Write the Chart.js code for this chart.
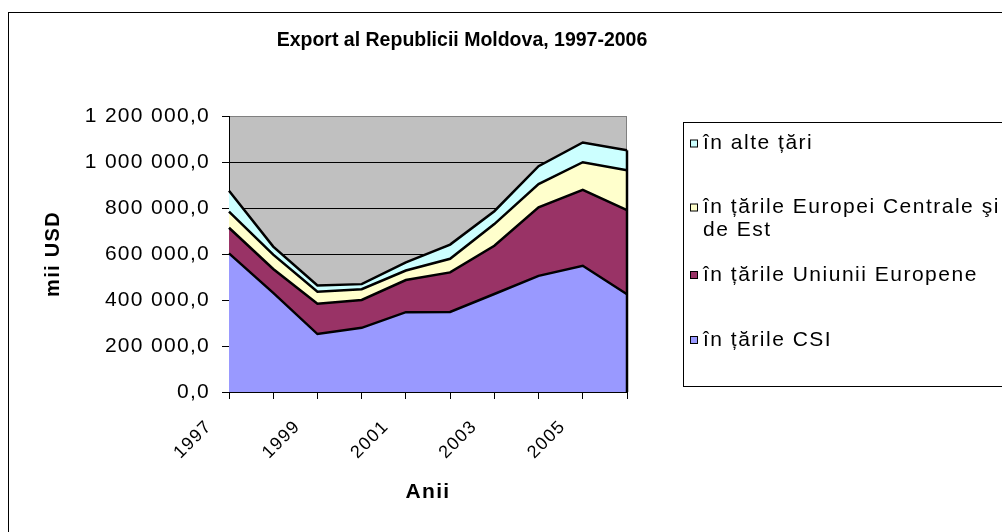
<!DOCTYPE html>
<html><head><meta charset="utf-8">
<script src="https://cdn.jsdelivr.net/npm/chart.js@4.4.1/dist/chart.umd.min.js"></script>
<style>html,body{margin:0;padding:0;background:#fff;overflow:hidden}#wrap{width:1002px;height:532px}</style>
</head><body><div id="wrap"><canvas id="c" width="1002" height="532"></canvas></div>
<script>
const chartTitle = 'Export al Republicii Moldova, 1997-2006';
const xTitle = 'Anii';
const yTitle = 'mii USD';
const years = ['1997','1998','1999','2000','2001','2002','2003','2004','2005','2006'];
const csi   = [603000, 431000, 252000, 279000, 347000, 348000, 426000, 505000, 549000, 425000];
const eu    = [111000, 104000, 132000, 121000, 140000, 172000, 210000, 298000, 330000, 366000];
const cee   = [ 70000,  62000,  52000,  47000,  41000,  59000,  94000, 101000, 120000, 173000];
const other = [ 91000,  35000,  27000,  22000,  36000,  62000,  56000,  78000,  86000,  87000];
const seriesNames = [
  ['în țările CSI'],
  ['în țările Uniunii Europene'],
  ['în țările Europei Centrale şi', 'de Est'],
  ['în alte țări']
];
const yTicks = [0, 200000, 400000, 600000, 800000, 1000000, 1200000];

const FONT = '"Liberation Sans", Arial, sans-serif';
const colors = ['#9999FF', '#993366', '#FFFFCC', '#CCFFFF'];
const seriesData = [csi, eu, cee, other];

function fmt(v) {
  const s = Math.round(v).toString().replace(/\B(?=(\d{3})+(?!\d))/g, ' ');
  return s + ',0';
}

const decor = {
  id: 'decor',
  beforeDraw(chart) {
    const ctx = chart.ctx, a = chart.chartArea;
    ctx.save();
    ctx.fillStyle = '#fff';
    ctx.fillRect(0, 0, chart.width, chart.height);
    ctx.strokeStyle = '#000';
    ctx.lineWidth = 1;
    ctx.strokeRect(8.5, 12.5, 1100, 600);
    ctx.fillStyle = '#C0C0C0';
    ctx.fillRect(a.left, a.top, a.right - a.left, a.bottom - a.top);
    ctx.strokeStyle = '#808080';
    ctx.beginPath();
    ctx.moveTo(a.right - 0.5, a.top);
    ctx.lineTo(a.right - 0.5, a.bottom);
    ctx.stroke();
    ctx.restore();
    ctx.letterSpacing = '1.3px';
  },
  afterDatasetsDraw(chart) {
    const ctx = chart.ctx, a = chart.chartArea, y = chart.scales.y;
    const last = years.length - 1;
    let total = 0;
    seriesData.forEach(s => total += s[last]);
    ctx.save();
    ctx.strokeStyle = '#000';
    ctx.lineWidth = 2.5;
    ctx.beginPath();
    ctx.moveTo(a.right, y.getPixelForValue(total));
    ctx.lineTo(a.right, a.bottom);
    ctx.stroke();
    ctx.restore();
  },
  afterDraw(chart) {
    const ctx = chart.ctx;
    ctx.save();
    ctx.letterSpacing = '0px';
    ctx.fillStyle = '#000';
    ctx.font = 'bold 19.5px ' + FONT;
    ctx.textAlign = 'center';
    ctx.textBaseline = 'middle';
    ctx.fillText(chartTitle, 462, 41);
    // legend box
    ctx.strokeStyle = '#000';
    ctx.lineWidth = 1;
    ctx.strokeRect(683.5, 122.5, 400, 264);
    const ys = [143.5, 207.5, 275, 340];
    ctx.font = '21px ' + FONT;
    ctx.letterSpacing = '1.5px';
    ctx.textAlign = 'left';
    const ds = chart.data.datasets;
    for (let k = 0; k < ds.length; k++) {
      const d = ds[ds.length - 1 - k];
      const yy = ys[k];
      ctx.fillStyle = d.backgroundColor;
      ctx.fillRect(690.5, yy - 3.5, 7, 7);
      ctx.strokeStyle = '#000';
      ctx.strokeRect(690.5, yy - 3.5, 7, 7);
      ctx.fillStyle = '#000';
      const lines = Array.isArray(d.label) ? d.label : [d.label];
      lines.forEach((t, j) => ctx.fillText(t, 703, yy + j * 22.5));
    }
    ctx.restore();
    ctx.letterSpacing = '0px';
  }
};

const datasets = seriesData.map((s, i) => ({
  label: seriesNames[i],
  data: s,
  backgroundColor: colors[i],
  borderColor: '#000',
  borderWidth: 2.5,
  fill: i === 0 ? 'origin' : '-1',
  pointRadius: 0,
  tension: 0
}));

new Chart(document.getElementById('c'), {
  type: 'line',
  data: { labels: years, datasets },
  plugins: [decor],
  options: {
    responsive: false,
    animation: false,
    devicePixelRatio: 1,
    layout: { padding: { left: 0, top: 116, right: 375, bottom: 0 } },
    plugins: { legend: { display: false }, title: { display: false }, tooltip: { enabled: false } },
    scales: {
      x: {
        offset: false,
        grid: { drawOnChartArea: false, drawTicks: true, tickLength: 7, tickColor: '#000', color: '#000' },
        border: { color: '#000', width: 1 },
        ticks: {
          autoSkip: false, maxRotation: 45, minRotation: 45, labelOffset: -20, padding: 17,
          color: '#000', font: { family: FONT, size: 18 },
          callback: (v, i) => (i % 2 === 0 ? years[i] : '')
        },
        title: { display: true, text: xTitle, color: '#000', font: { family: FONT, size: 21, weight: 'bold' }, padding: { top: 0, bottom: 27 } },
        afterFit: s => { s.height = 140; }
      },
      y: {
        stacked: true,
        min: yTicks[0],
        max: yTicks[yTicks.length - 1],
        afterBuildTicks: s => { s.ticks = yTicks.map(v => ({ value: v })); },
        grid: {
          color: c => (c.tick && c.tick.value === yTicks[yTicks.length - 1] ? '#808080' : '#000'),
          tickColor: '#000', tickLength: 7, lineWidth: 1
        },
        border: { color: '#000', width: 1 },
        ticks: { padding: 12, color: '#000', font: { family: FONT, size: 21 }, callback: v => fmt(v) },
        title: { display: true, text: yTitle, color: '#000', font: { family: FONT, size: 20, weight: 'bold' }, padding: { top: 41, bottom: 0 } },
        afterFit: s => { s.width = 229; }
      }
    }
  }
});
</script>
</body></html>
